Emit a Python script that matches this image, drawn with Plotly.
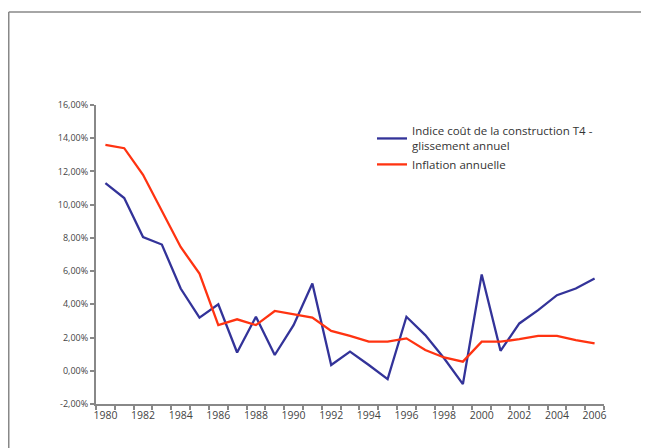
import plotly.graph_objects as go

years = list(range(1980, 2007))
construction = [11.3, 10.4, 8.05, 7.6, 4.95, 3.2, 4.0, 1.1, 3.25, 0.95, 2.75, 5.25,
                0.35, 1.15, 0.35, -0.5, 3.25, 2.15, 0.75, -0.8, 5.8, 1.2, 2.85, 3.65,
                4.55, 4.95, 5.55]
inflation = [13.6, 13.4, 11.8, 9.65, 7.45, 5.85, 2.75, 3.1, 2.75, 3.6, 3.4, 3.2,
             2.4, 2.1, 1.75, 1.75, 1.95, 1.25, 0.8, 0.55, 1.75, 1.75, 1.9, 2.1,
             2.1, 1.85, 1.65]
ytick_vals = [-2, 0, 2, 4, 6, 8, 10, 12, 14, 16]
ytick_text = ["-2,00%", "0,00%", "2,00%", "4,00%", "6,00%", "8,00%", "10,00%",
              "12,00%", "14,00%", "16,00%"]
xtick_vals = list(range(1980, 2007, 2))
name_construction = "Indice coût de la construction T4 -<br>glissement annuel"
name_inflation = "Inflation annuelle"

fig = go.Figure()
fig.add_trace(go.Scatter(x=years, y=construction, mode="lines", name=name_construction,
                         line=dict(color="#333399", width=2.3)))
fig.add_trace(go.Scatter(x=years, y=inflation, mode="lines", name=name_inflation,
                         line=dict(color="#ff3311", width=2.3)))

OFF = 8  # page body margin
W, H = 649 - OFF, 448 - OFF
L, T = 96 - OFF, 105 - OFF
R, B = W - (604 - OFF), H - (404 - OFF)
pw, ph = W - L - R, H - T - B

def px_x(x):
    return (x - OFF - L) / pw

def px_y(y):
    return (H - B - (y - OFF)) / ph

fig.update_layout(
    width=W, height=H,
    margin=dict(l=L, r=R, t=T, b=B),
    plot_bgcolor="white", paper_bgcolor="white",
    font=dict(family="Open Sans, Liberation Sans, sans-serif", size=9, color="#444"),
    showlegend=True,
    legend=dict(x=px_x(372), y=px_y(117), xanchor="left", yanchor="top",
                font=dict(size=11.5, color="#333"), bgcolor="rgba(0,0,0,0)",
                tracegroupgap=7),
    xaxis=dict(range=[1979.5, 2006.5], tickvals=xtick_vals, ticks="", showgrid=False,
               tickfont=dict(size=10.5, color="#444"),
               zeroline=False, showline=True, linecolor="#888", linewidth=2,
               minor=dict(tickvals=[y + 0.5 for y in range(1979, 2007)], ticks="outside",
                          ticklen=4, tickcolor="#888", tickwidth=1.5)),
    yaxis=dict(range=[-2, 16], tickvals=ytick_vals, ticktext=ytick_text, ticks="outside",
               ticklen=4, tickcolor="#888", tickwidth=1.5, showgrid=False, zeroline=False,
               showline=True, linecolor="#888", linewidth=2),
    shapes=[
        dict(type="line", xref="paper", yref="paper", x0=px_x(8.75), x1=px_x(649),
             y0=px_y(12), y1=px_y(12), line=dict(color="#888", width=1.5)),
        dict(type="line", xref="paper", yref="paper", x0=px_x(8.75), x1=px_x(8.75),
             y0=px_y(12), y1=px_y(448), line=dict(color="#888", width=1.5)),
    ],
)

fig.write_html("out.html", config={"displayModeBar": False},
               post_script="document.documentElement.style.overflow='hidden';"
                           "document.body.style.overflow='hidden';")
